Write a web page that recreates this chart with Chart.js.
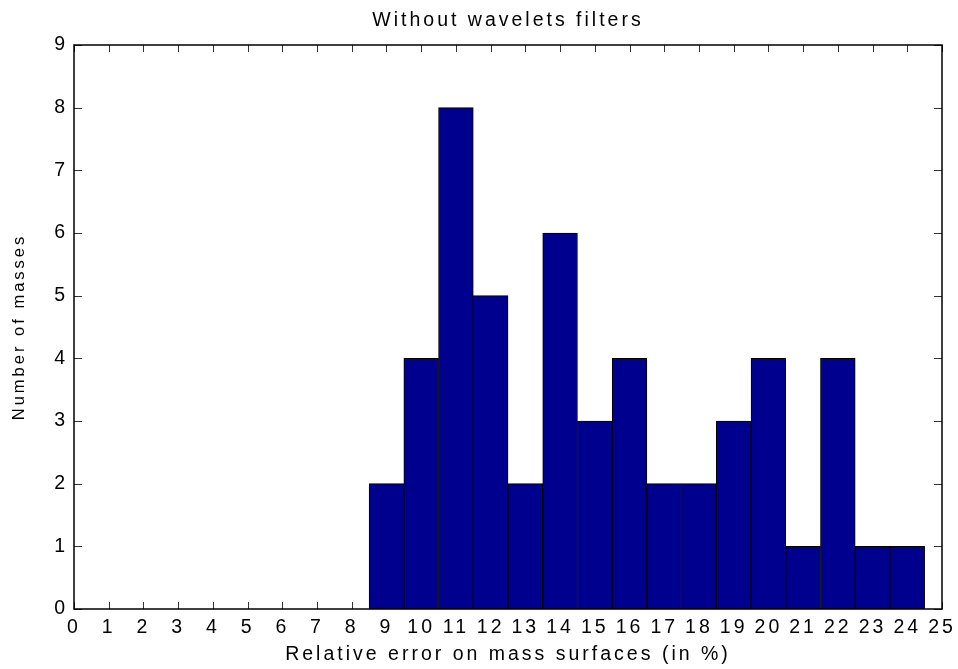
<!DOCTYPE html>
<html>
<head>
<meta charset="utf-8">
<title>Without wavelets filters</title>
<script src="https://cdn.jsdelivr.net/npm/chart.js@4.4.1/dist/chart.umd.min.js"></script>
<style>
  html, body { margin: 0; padding: 0; background: #fff; }
  #wrap { width: 958px; height: 669px; }
</style>
</head>
<body>
<div id="wrap"><canvas id="histo" width="958" height="669"></canvas></div>
<script>
'use strict';

// ── Histogram data (bin centres, counts) ──────────────────
const binCenters = [1, 2, 3, 4, 5, 6, 7, 8, 9, 10, 11, 12, 13, 14, 15, 16, 17, 18, 19, 20, 21, 22, 23, 24];
const massCounts = [0, 0, 0, 0, 0, 0, 0, 0, 2, 4, 8, 5, 2, 6, 3, 4, 2, 2, 3, 4, 1, 4, 1, 1];

// ── Tick labels ───────────────────────────────────────────
const xTickValues = [0, 1, 2, 3, 4, 5, 6, 7, 8, 9, 10, 11, 12, 13, 14, 15, 16, 17, 18, 19, 20, 21, 22, 23, 24, 25];
const yTickValues = [0, 1, 2, 3, 4, 5, 6, 7, 8, 9];

const chartTitle = 'Without wavelets filters';
const xLabel     = 'Relative error on mass surfaces (in %)';
const yLabel     = 'Number of masses';

const FONT     = "'Liberation Sans', Arial, Helvetica, sans-serif";
const BAR_BLUE = '#00008f';
const SPACING  = '3px';

// ── MATLAB-style box with inward ticks ────────────────────
const matlabAxes = {
    id: 'matlabAxes',
    beforeLayout(chart) { chart.ctx.letterSpacing = SPACING; },
    beforeDraw(chart)   { chart.ctx.letterSpacing = SPACING; },
    beforeDatasetsDraw(chart) {
        const { ctx, chartArea: a, scales: { x, y } } = chart;
        ctx.save();
        ctx.strokeStyle = '#333';
        ctx.lineWidth = 1;
        ctx.beginPath();
        x.ticks.forEach(t => {
            const px = Math.round(x.getPixelForValue(t.value)) + 0.5;
            ctx.moveTo(px, a.bottom); ctx.lineTo(px, a.bottom - 7);
            ctx.moveTo(px, a.top);    ctx.lineTo(px, a.top + 7);
        });
        y.ticks.forEach(t => {
            const py = Math.round(y.getPixelForValue(t.value)) + 0.5;
            ctx.moveTo(a.left, py);  ctx.lineTo(a.left + 8, py);
            ctx.moveTo(a.right, py); ctx.lineTo(a.right - 8, py);
        });
        ctx.stroke();
        ctx.restore();
    },
    afterDatasetsDraw(chart) {
        const { ctx, chartArea: a } = chart;
        ctx.save();
        ctx.strokeStyle = '#000';
        ctx.lineWidth = 1.5;
        ctx.strokeRect(Math.round(a.left), Math.round(a.top), Math.round(a.right - a.left), Math.round(a.bottom - a.top));
        ctx.restore();
    }
};

const tickFont  = { family: FONT, size: 19.5, lineHeight: 1.2 };

new Chart(document.getElementById('histo').getContext('2d'), {
    type: 'bar',
    data: {
        datasets: [{
            data: binCenters.map((c, i) => ({ x: c, y: massCounts[i] })),
            backgroundColor: BAR_BLUE,
            borderColor: '#000',
            borderWidth: 1,
            borderSkipped: false,
            barPercentage: 1,
            categoryPercentage: 1,
        }]
    },
    options: {
        responsive: false,
        animation: false,
        devicePixelRatio: 1,
        layout: { padding: { left: 0, right: 16, top: 0, bottom: 0 } },
        plugins: {
            legend: { display: false },
            tooltip: { enabled: false },
            title: {
                display: true,
                fullSize: false,
                text: chartTitle,
                color: '#000',
                font: { family: FONT, size: 19.5, weight: 'normal', lineHeight: 1.2 },
                padding: { top: 9, bottom: 12.6 }
            }
        },
        scales: {
            x: {
                type: 'linear',
                min: 0,
                max: 25,
                offset: false,
                grid: { display: false, drawTicks: false },
                border: { display: false },
                afterBuildTicks: s => { s.ticks = xTickValues.map(v => ({ value: v })); },
                afterFit: s => { s.height = 60; s.paddingLeft = 0; s.paddingRight = 0; },
                ticks: { autoSkip: false, maxRotation: 0, minRotation: 0, padding: 7, color: '#000', font: tickFont },
                title: {
                    display: true, text: xLabel, color: '#000',
                    font: { family: FONT, size: 19.5, lineHeight: 1.2 },
                    padding: { top: 0, bottom: 2.3 }
                }
            },
            y: {
                type: 'linear',
                min: 0,
                max: 9,
                grid: { display: false, drawTicks: false },
                border: { display: false },
                afterBuildTicks: s => { s.ticks = yTickValues.map(v => ({ value: v })); },
                afterFit: s => { s.width = 74; },
                ticks: { padding: 6, color: '#000', font: tickFont },
                title: {
                    display: true, text: yLabel, color: '#000',
                    font: { family: FONT, size: 16.5, lineHeight: 1.2 },
                    padding: { top: 9.6, bottom: 0 }
                }
            }
        }
    },
    plugins: [matlabAxes]
});
</script>
</body>
</html>
